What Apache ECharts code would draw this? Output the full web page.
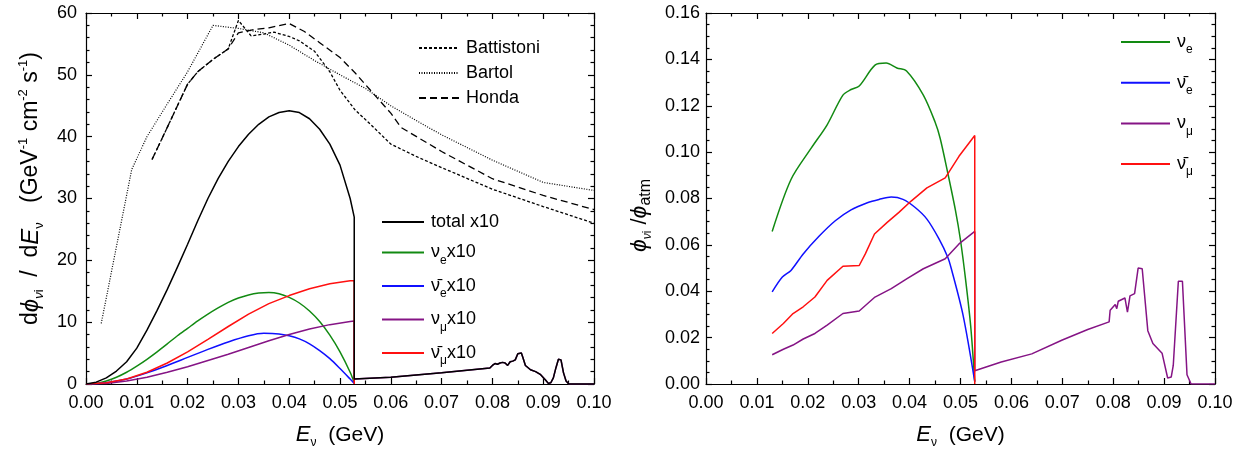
<!DOCTYPE html>
<html>
<head>
<meta charset="utf-8">
<script src="https://cdn.jsdelivr.net/npm/echarts/dist/echarts.min.js"></script>
<style>html,body{margin:0;background:#fff}#box{width:1247px;height:455px}</style>
</head>
<body>
<div id="box"></div>
<script>
// 左图：通量 (x10)
const totalX10 = [[0,0],[0.002,0.3],[0.004,1.0],[0.006,2.1],[0.008,3.6],[0.010,5.8],[0.012,8.7],[0.014,11.9],
  [0.016,15.3],[0.018,18.9],[0.020,22.6],[0.022,26.4],[0.024,30.0],[0.026,33.2],[0.028,36.0],[0.030,38.4],
  [0.032,40.4],[0.034,42.0],[0.036,43.2],[0.038,43.9],[0.040,44.2],[0.042,43.9],[0.044,42.9],[0.046,41.2],
  [0.048,38.8],[0.050,35.4],[0.052,30.0],[0.0528,27.0]];
const nueX10 = [[0,0],[0.002,0.1],[0.004,0.5],[0.006,1.1],[0.008,1.9],[0.010,2.9],[0.012,4.0],[0.014,5.2],
  [0.016,6.5],[0.018,7.8],[0.020,9.0],[0.022,10.2],[0.024,11.3],[0.026,12.3],[0.028,13.2],[0.030,13.9],
  [0.032,14.4],[0.034,14.7],[0.036,14.8],[0.038,14.6],[0.040,14.0],[0.042,13.1],[0.044,11.8],[0.046,10.1],
  [0.048,7.9],[0.050,5.2],[0.052,1.9],[0.0528,0.2]];
const nuebarX10 = [[0,0],[0.004,0.2],[0.008,0.8],[0.012,1.8],[0.016,3.0],[0.020,4.3],[0.024,5.6],[0.028,6.8],
  [0.032,7.8],[0.035,8.2],[0.038,8.1],[0.040,7.8],[0.042,7.3],[0.044,6.5],[0.046,5.4],[0.048,4.1],
  [0.050,2.5],[0.052,0.8],[0.0528,0.1]];
const numuX10 = [[0,0],[0.004,0.1],[0.008,0.5],[0.012,1.1],[0.016,1.9],[0.020,2.8],[0.024,3.8],[0.028,4.8],
  [0.032,5.9],[0.036,7.0],[0.040,8.0],[0.044,8.9],[0.048,9.6],[0.052,10.1],[0.0528,10.2]];
const numubarX10 = [[0,0],[0.004,0.2],[0.008,0.8],[0.012,1.9],[0.016,3.4],[0.020,5.2],[0.024,7.2],[0.028,9.3],
  [0.032,11.3],[0.036,13.0],[0.040,14.3],[0.044,15.4],[0.048,16.2],[0.052,16.7],[0.0528,16.7],[0.0528,0]];
// 0.0528 以后只剩 νμ
const tailX10 = [[0.0528,0.8],[0.060,1.1],[0.070,1.8],[0.0795,2.6],[0.080,3.0],[0.0805,3.3],[0.081,3.2],
  [0.0815,3.4],[0.082,3.5],[0.0825,3.4],[0.083,3.0],[0.0835,3.6],[0.084,3.7],[0.0845,3.9],[0.085,4.9],
  [0.0857,5.0],[0.086,4.3],[0.0865,3.0],[0.0875,2.3],[0.0885,2.0],[0.0895,1.5],[0.0905,0.6],[0.091,0.1],
  [0.0915,0.2],[0.092,1.0],[0.0925,2.6],[0.093,4.0],[0.0935,3.9],[0.094,1.8],[0.0945,0.5],[0.095,0.05],
  [0.0955,0],[0.100,0]];
// 大气中微子通量
const battistoni = [[0.013,36.3],[0.016,41.5],[0.020,48.5],[0.022,50.5],[0.025,52.5],[0.028,54.2],[0.030,58.8],
  [0.0325,56.3],[0.035,56.6],[0.037,56.9],[0.040,56.2],[0.042,55.5],[0.045,53.8],[0.048,50.5],[0.050,47.5],
  [0.053,44.3],[0.056,42.0],[0.060,38.8],[0.065,36.8],[0.070,35.0],[0.080,31.5],[0.090,28.7],[0.100,26.0]];
const bartol = [[0.003,9.8],[0.009,34.7],[0.012,40.0],[0.016,45.3],[0.020,50.5],[0.025,58.0],[0.030,57.5],
  [0.035,56.8],[0.040,54.8],[0.045,52.3],[0.050,50.0],[0.055,47.8],[0.060,45.0],[0.065,42.6],[0.070,40.3],
  [0.080,36.2],[0.090,32.6],[0.100,31.3]];
const honda = [[0.013,36.3],[0.016,41.5],[0.020,48.5],[0.022,50.5],[0.025,52.5],[0.028,54.2],[0.030,56.8],
  [0.033,57.3],[0.036,57.6],[0.040,58.3],[0.043,57.0],[0.046,55.2],[0.050,52.8],[0.053,50.3],[0.056,47.5],
  [0.060,43.8],[0.062,41.5],[0.070,37.6],[0.080,33.2],[0.090,30.5],[0.100,28.2]];

// 右图：比值
const rNue = [[0.013,0.0658],[0.0167,0.0882],[0.0207,0.1018],[0.0238,0.1118],[0.0269,0.1246],[0.0285,0.127],
  [0.0301,0.1285],[0.0332,0.1375],[0.0354,0.1384],[0.0375,0.1363],[0.0394,0.135],[0.0427,0.1246],
  [0.045,0.113],[0.046,0.106],[0.0475,0.091],[0.049,0.075],[0.050,0.062],[0.051,0.045],[0.052,0.025],[0.0528,0.001]];
const rNuebar = [[0.013,0.0397],[0.015,0.0461],[0.0167,0.049],[0.0191,0.0561],[0.0222,0.0637],[0.0254,0.0704],
  [0.0285,0.0751],[0.0317,0.0782],[0.034,0.0796],[0.0364,0.0806],[0.0387,0.0796],[0.0411,0.0761],
  [0.0434,0.0711],[0.0458,0.0625],[0.0475,0.0547],[0.0482,0.0497],[0.0505,0.0297],[0.0528,0.001]];
const rNumubar = [[0.013,0.0218],[0.0152,0.0261],[0.0171,0.0304],[0.0191,0.0333],[0.0214,0.0375],[0.0238,0.0447],
  [0.0269,0.0508],[0.0301,0.0511],[0.0313,0.0561],[0.0331,0.0647],[0.0356,0.0697],[0.0379,0.074],
  [0.0403,0.0789],[0.0434,0.0846],[0.047,0.0889],[0.0497,0.0982],[0.0528,0.1072],[0.0528,0]];
const rNumu = [[0.013,0.0126],[0.0152,0.015],[0.0171,0.0168],[0.0191,0.0194],[0.0214,0.0218],[0.0238,0.0254],
  [0.0269,0.0304],[0.0301,0.0315],[0.0332,0.0375],[0.0364,0.0411],[0.0395,0.0454],[0.0427,0.0497],
  [0.047,0.054],[0.0497,0.0604],[0.0528,0.0658]];
const rNumuTail = [[0.0528,0.0057],[0.058,0.0095],[0.064,0.013],[0.070,0.019],[0.075,0.0235],[0.0792,0.0268],
  [0.0794,0.0318],[0.0804,0.0343],[0.0807,0.0325],[0.081,0.0357],[0.0823,0.0371],[0.0828,0.031],[0.0833,0.038],
  [0.0842,0.039],[0.0849,0.050],[0.0857,0.0497],[0.0868,0.023],[0.0878,0.0175],[0.0896,0.0133],[0.0907,0.0026],
  [0.0914,0.003],[0.0918,0.008],[0.0928,0.0443],[0.0936,0.0443],[0.0945,0.004],[0.0953,0],[0.100,0]];

const legendLabels = {
  'Battistoni': 'Battistoni', 'Bartol': 'Bartol', 'Honda': 'Honda',
  'total x10': 'total x10',
  'nue x10': 'ν{s|e}x10',
  'nuebar x10': 'ν\u0304{s|e}x10',
  'numu x10': 'ν{s|μ}x10',
  'numubar x10': 'ν\u0304{s|μ}x10',
  'nue': 'ν{s|e}', 'nuebar': 'ν\u0304{s|e}', 'numu': 'ν{s|μ}', 'numubar': 'ν\u0304{s|μ}'
};

const FONT = 'Liberation Sans';
const GREEN = '#128a12', BLUE = '#1010ff', PURPLE = '#851485', RED = '#ff1010';

let chart = echarts.init(document.getElementById('box'));

function xAx(grid, pos) {
  let top = pos === 'top';
  return {
    gridIndex: grid, type: 'value', position: pos, min: 0, max: 0.1, interval: 0.01,
    axisLine: {show: true, onZero: false, lineStyle: {color: '#000', width: 1.2}},
    axisTick: {show: true, inside: true, length: 6, lineStyle: {color: '#000', width: 1.2}},
    minorTick: {show: true, splitNumber: 2, length: 3.5, lineStyle: {color: '#000', width: 1.2}},
    splitLine: {show: false},
    axisLabel: {show: !top, margin: 10, color: '#000', fontSize: 18, fontFamily: FONT,
      formatter: v => v.toFixed(2)},
    name: top ? '' : '{i|E}{s|ν}  (GeV)',
    nameLocation: 'middle', nameGap: 38,
    nameTextStyle: nameStyle(21, 12)
  };
}

function yAx(grid, pos, max, step, minor, digits, margin) {
  let right = pos === 'right';
  return {
    gridIndex: grid, type: 'value', position: pos, min: 0, max: max, interval: step,
    axisLine: {show: true, onZero: false, lineStyle: {color: '#000', width: 1.2}},
    axisTick: {show: true, inside: true, length: 6, lineStyle: {color: '#000', width: 1.2}},
    minorTick: {show: true, splitNumber: minor, length: 3.5, lineStyle: {color: '#000', width: 1.2}},
    splitLine: {show: false},
    axisLabel: {show: !right, margin: margin, color: '#000', fontSize: 18, fontFamily: FONT,
      formatter: v => v.toFixed(digits)}
  };
}

function nameStyle(size, sub) {
  return {
    color: '#000', fontSize: size, fontFamily: FONT, lineHeight: 26,
    rich: {
      i: {fontStyle: 'italic', fontSize: size + 1, fontFamily: FONT, lineHeight: 26},
      s: {fontSize: sub, fontFamily: FONT, lineHeight: 26, padding: [16, 0, 0, 0]},
      si: {fontStyle: 'italic', fontSize: sub, fontFamily: FONT, lineHeight: 26, padding: [16, 0, 0, 0]},
      p: {fontSize: sub, fontFamily: FONT, lineHeight: 26, padding: [0, 0, 15, 0]},
      a: {fontSize: 16, fontFamily: FONT, lineHeight: 26, padding: [12, 0, 0, 0]}
    }
  };
}

function line(name, data, color, xi, yi, width, type, z, smooth) {
  return {
    name: name, type: 'line', xAxisIndex: xi, yAxisIndex: yi, data: data,
    symbol: 'none', showSymbol: false, animation: false, z: z || 2, smooth: smooth || false,
    lineStyle: {color: color, width: width, type: type || 'solid'},
    itemStyle: {color: color}
  };
}

function legendStyle(left, top, w, gap, names) {
  return {
    data: names, orient: 'vertical', left: left, top: top, itemWidth: w, itemHeight: 14,
    itemGap: gap, selectedMode: false, padding: 0,
    itemStyle: {opacity: 0},
    formatter: n => legendLabels[n],
    textStyle: {
      color: '#000', fontSize: 18, fontFamily: FONT, lineHeight: 22, padding: [0, 0, 0, 2],
      rich: {s: {fontSize: 12, fontFamily: FONT, lineHeight: 22, padding: [16, 0, 0, 0]}}
    }
  };
}

let yLeft = yAx(0, 'left', 60, 10, 5, 0, 9);
yLeft.name = 'd{i|ϕ}{si|ν}{s|i}  /  d{i|E}{s|ν}   (GeV{p|-1} cm{p|-2} s{p|-1})';
yLeft.nameLocation = 'middle';
yLeft.nameGap = 42;
yLeft.nameTextStyle = nameStyle(23, 13);
yLeft.nameTextStyle.padding = [0, 0, 0, 20];

let yRight = yAx(1, 'left', 0.16, 0.02, 4, 2, 6);
yRight.name = '{i|ϕ}{si|ν}{s|i} /{i|ϕ}{a|atm}';
yRight.nameLocation = 'middle';
yRight.nameGap = 53;
yRight.nameTextStyle = nameStyle(22, 12);
yRight.nameTextStyle.padding = [0, 34, 0, 0];

let option = {
  backgroundColor: '#fff',
  grid: [
    {left: 86, right: 653, top: 13, bottom: 71},
    {left: 706, right: 32, top: 13, bottom: 71}
  ],
  xAxis: [xAx(0, 'bottom'), xAx(0, 'top'), xAx(1, 'bottom'), xAx(1, 'top')],
  yAxis: [yLeft, yAx(0, 'right', 60, 10, 5, 0, 9), yRight, yAx(1, 'right', 0.16, 0.02, 4, 2, 6)],
  legend: [
    legendStyle(418, 37, 40, 3, ['Battistoni', 'Bartol', 'Honda']),
    legendStyle(381, 211, 42, 5.5, ['total x10', 'nue x10', 'nuebar x10', 'numu x10', 'numubar x10']),
    legendStyle(1120, 28, 49, 12.7, ['nue', 'nuebar', 'numu', 'numubar'])
  ],
  series: [
    line('Battistoni', battistoni, '#000', 0, 0, 1.3, [3, 2]),
    line('Bartol', bartol, '#000', 0, 0, 1.2, [1, 1.5]),
    line('Honda', honda, '#000', 0, 0, 1.3, [7, 4]),
    line('nue x10', nueX10, GREEN, 0, 0, 1.5, 'solid', 2, 0.3),
    line('nuebar x10', nuebarX10, BLUE, 0, 0, 1.5, 'solid', 2, 0.3),
    line('numu x10', numuX10.concat(tailX10), PURPLE, 0, 0, 1.5),
    line('numubar x10', numubarX10, RED, 0, 0, 1.5),
    line('total x10', totalX10.concat(tailX10), '#000', 0, 0, 1.5, 'solid', 3),
    line('nue', rNue, GREEN, 2, 2, 1.5, 'solid', 2, 0.3),
    line('nuebar', rNuebar, BLUE, 2, 2, 1.5, 'solid', 2, 0.3),
    line('numu', rNumu.concat(rNumuTail), PURPLE, 2, 2, 1.5),
    line('numubar', rNumubar, RED, 2, 2, 1.5)
  ]
};
chart.setOption(option);
</script>
</body>
</html>
